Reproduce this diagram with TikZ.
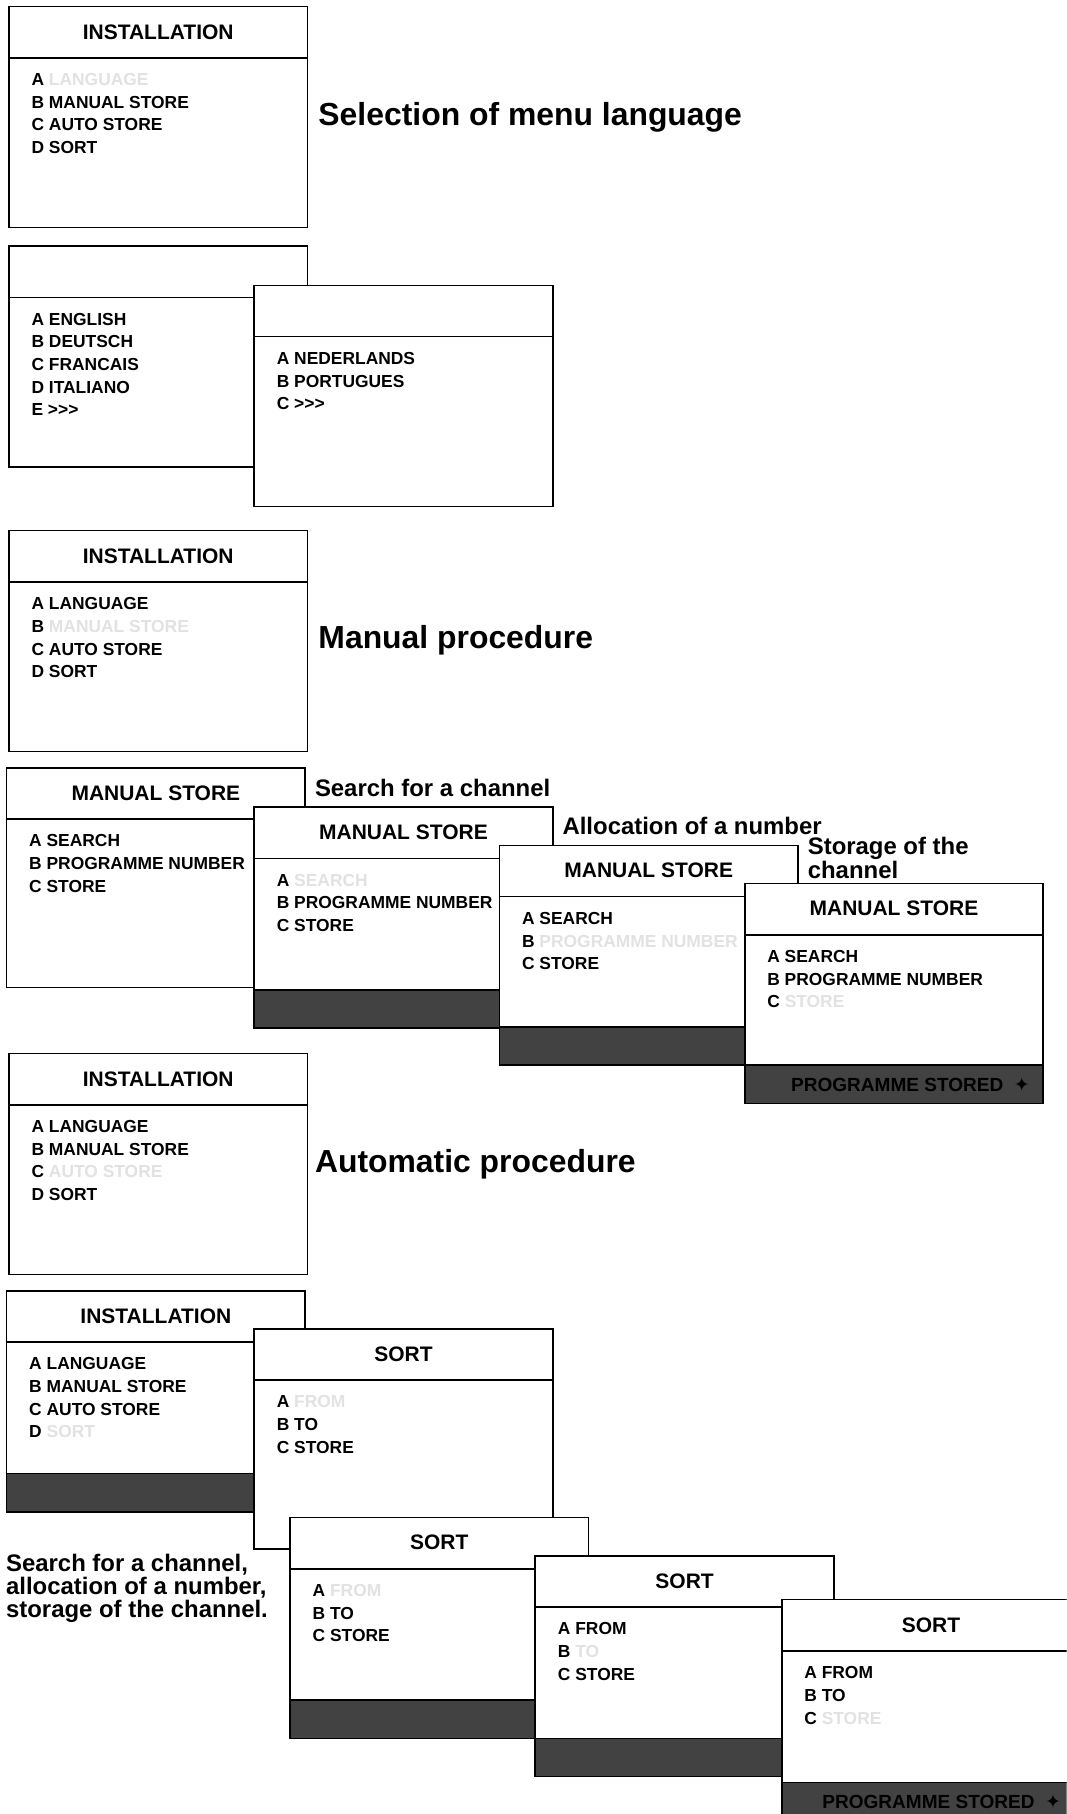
\documentclass[tikz,border=0pt]{standalone}
\usepackage{fontspec}
\setmainfont{Liberation Sans}
\newfontfamily\symfont{DejaVu Sans}
\usepackage{xcolor}
\definecolor{tvbar}{HTML}{424242}
\definecolor{tvfade}{HTML}{E2E2E2}
\usepackage{tikz}
\usetikzlibrary{positioning,calc}

\newcommand{\faded}[1]{\textcolor{tvfade}{#1}}
\newcommand{\more}{>{}>{}>}
\newcommand{\tvmenu}[5]{%
  \node[menubox,minimum height=#3*0.025cm] (#1) at #2 {};
  \draw[menuline] ($(#1.north west)+(0,45)$) coordinate (#1-hl) -- ($(#1.north east)+(0,45)$);
  \node[menuhead] (#1-head) at ($(#1.north)+(0,22.5)$) {#4};
  \foreach \txt [count=\n] in {#5}
    \node[menuitem] (#1-\n) at ($(#1-hl)+(20,24+19.6*\n-19.6)$) {\txt};
}
\newcommand{\tvbar}[1]{\node[menubar] (#1-bar) at (#1.south west) {};}

\begin{document}
\begin{tikzpicture}[x=0.025cm,y=-0.025cm,
  menubox/.style={draw,line width=1pt,fill=white,anchor=north west,minimum width=6.45cm,inner sep=0pt},
  menuline/.style={line width=1pt},
  menuhead/.style={font=\fontsize{12.9}{15}\selectfont\bfseries,inner sep=0pt},
  menuitem/.style={font=\fontsize{10.7}{13}\selectfont\bfseries,anchor=base west,inner sep=0pt},
  menubar/.style={draw,line width=1pt,fill=tvbar,anchor=south west,minimum width=6.45cm,minimum height=0.825cm,inner sep=0pt},
  bartext/.style={font=\fontsize{11.7}{14}\selectfont\bfseries,anchor=east,inner sep=0pt},
  bigtitle/.style={font=\fontsize{19.6}{23}\selectfont\bfseries,anchor=west,inner sep=0pt},
  steplabel/.style={font=\fontsize{14.7}{11.5}\selectfont\bfseries,anchor=west,inner sep=0pt,align=left}]
\clip (0,0) rectangle (922,1568);
\fill[white] (0,0) rectangle (922,1568);

\tvmenu{inst1}{(7,5)}{191}{INSTALLATION}{A \faded{LANGUAGE},B MANUAL STORE,C AUTO STORE,D SORT}
\node[bigtitle] (title1) at (275,101) {Selection of menu language};

\tvmenu{lang1}{(7,212)}{191}{}{A ENGLISH,B DEUTSCH,C FRANCAIS,D ITALIANO,E \more}
\tvmenu{lang2}{(219,246)}{191}{}{A NEDERLANDS,B PORTUGUES,C \more}

\tvmenu{inst2}{(7,458)}{191}{INSTALLATION}{A LANGUAGE,B \faded{MANUAL STORE},C AUTO STORE,D SORT}
\node[bigtitle] (title2) at (275,553) {Manual procedure};

\tvmenu{man1}{(5,663)}{190}{MANUAL STORE}{A SEARCH,B PROGRAMME NUMBER,C STORE}
\node[steplabel] (lab1) at (272,681) {Search for a channel};
\tvmenu{man2}{(219,697)}{191}{MANUAL STORE}{A \faded{SEARCH},B PROGRAMME NUMBER,C STORE}
\tvbar{man2}
\node[steplabel] (lab2) at (486,714) {Allocation of a number};
\tvmenu{man3}{(431,730)}{190}{MANUAL STORE}{A SEARCH,B \faded{PROGRAMME NUMBER},C STORE}
\tvbar{man3}
\node[steplabel] (lab3) at (698,742) {Storage of the\\channel};
\tvmenu{man4}{(643,763)}{190}{MANUAL STORE}{A SEARCH,B PROGRAMME NUMBER,C \faded{STORE}}
\tvbar{man4}
\node[bartext] (man4-msg) at ($(man4-bar.east)+(-12,0)$) {PROGRAMME STORED\ \ {\symfont ✦}};

\tvmenu{inst3}{(7,910)}{191}{INSTALLATION}{A LANGUAGE,B MANUAL STORE,C \faded{AUTO STORE},D SORT}
\node[bigtitle] (title3) at (272,1006) {Automatic procedure};

\tvmenu{inst4}{(5,1115)}{191}{INSTALLATION}{A LANGUAGE,B MANUAL STORE,C AUTO STORE,D \faded{SORT}}
\tvbar{inst4}
\tvmenu{sort1}{(219,1148)}{190}{SORT}{A \faded{FROM},B TO,C STORE}
\tvmenu{sort2}{(250,1311)}{191}{SORT}{A \faded{FROM},B TO,C STORE}
\tvbar{sort2}
\tvmenu{sort3}{(462,1344)}{191}{SORT}{A FROM,B \faded{TO},C STORE}
\tvbar{sort3}
\tvmenu{sort4}{(675,1382)}{191}{SORT}{A FROM,B TO,C \faded{STORE}}
\tvbar{sort4}
\node[bartext] (sort4-msg) at ($(sort4-bar.east)+(-17,0)$) {PROGRAMME STORED\ \ {\symfont ✦}};

\node[steplabel,font=\fontsize{14.7}{14.2}\selectfont\bfseries] (lab4) at (5,1373) {Search for a channel,\\allocation of a number,\\storage of the channel.};
\end{tikzpicture}
\end{document}
